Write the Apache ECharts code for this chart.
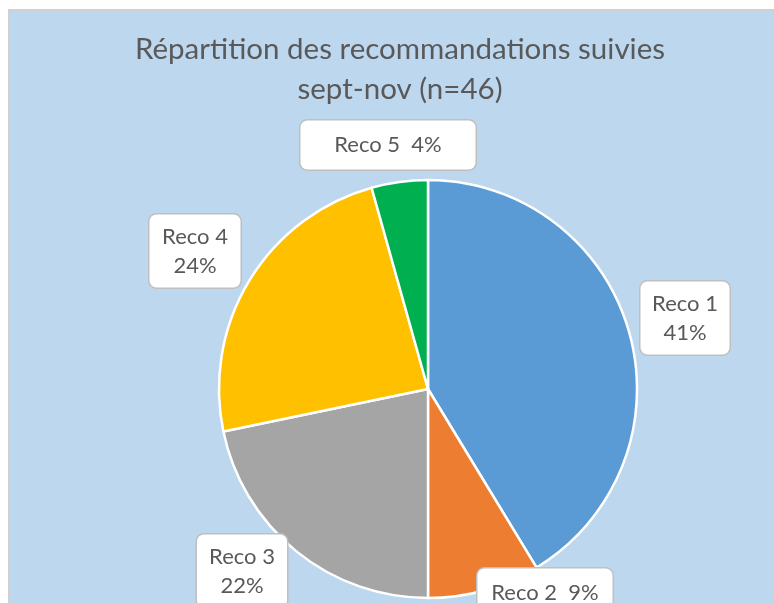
<!DOCTYPE html>
<html>
<head>
<meta charset="utf-8">
<script src="https://cdn.jsdelivr.net/npm/echarts@6/dist/echarts.min.js"></script>
<style>
  html, body { margin: 0; padding: 0; background: #fff; overflow: hidden; width: 774px; height: 603px; }
  #frame {
    position: absolute; left: 8px; top: 9px;
    width: 790px; height: 610px;
    border-left: 2px solid #d0d0d0; border-top: 2px solid #d0d0d0;
    background: #BDD7EE;
  }
  #chart { width: 780px; height: 600px; }
</style>
</head>
<body>
<div id="frame"><div id="chart"></div></div>
<script>
const categories = ['Reco 1', 'Reco 2', 'Reco 3', 'Reco 4', 'Reco 5'];
const counts = [19, 4, 10, 11, 2];
const colors = ['#5B9BD5', '#ED7D31', '#A5A5A5', '#FFC000', '#00B050'];
const oneLine = [false, true, false, false, true];
// label box centres and widths (px, inside chart)
const labelPos = [[675, 307], [535, 582], [232, 560], [185, 240], [378, 134]];
const labelWidth = [89, 135, 90, 91, 175];

const font = 'Lato, "Open Sans", sans-serif';
const chart = echarts.init(document.getElementById('chart'));

chart.setOption({
  animation: false,
  title: {
    text: 'Répartition des recommandations suivies\nsept-nov (n=46)',
    left: 'center',
    top: 13,
    textStyle: { fontFamily: font, fontSize: 29.5, fontWeight: 'normal', color: '#595959', lineHeight: 40 }
  },
  series: [{
    type: 'pie',
    center: [418, 378],
    radius: 209,
    startAngle: 90,
    clockwise: true,
    percentPrecision: 0,
    itemStyle: { borderColor: '#fff', borderWidth: 2.5 },
    labelLine: { show: false },
    label: {
      position: 'outside',
      fontFamily: font,
      fontSize: 22,
      lineHeight: 29,
      color: '#595959',
      backgroundColor: '#fff',
      borderColor: '#BFBFBF',
      borderWidth: 1.5,
      borderRadius: 7,
      align: 'center'
    },
    labelLayout: (p) => ({
      x: labelPos[p.dataIndex][0],
      y: labelPos[p.dataIndex][1],
      align: 'center',
      verticalAlign: 'middle',
      hideOverlap: false
    }),
    data: categories.map((name, i) => ({
      name: name,
      value: counts[i],
      itemStyle: { color: colors[i] },
      label: {
        formatter: oneLine[i] ? '{b}  {d}%' : '{b}\n{d}%',
        width: labelWidth[i],
        padding: oneLine[i] ? [10, 0] : [7.5, 0]
      }
    }))
  }]
});
</script>
</body>
</html>
